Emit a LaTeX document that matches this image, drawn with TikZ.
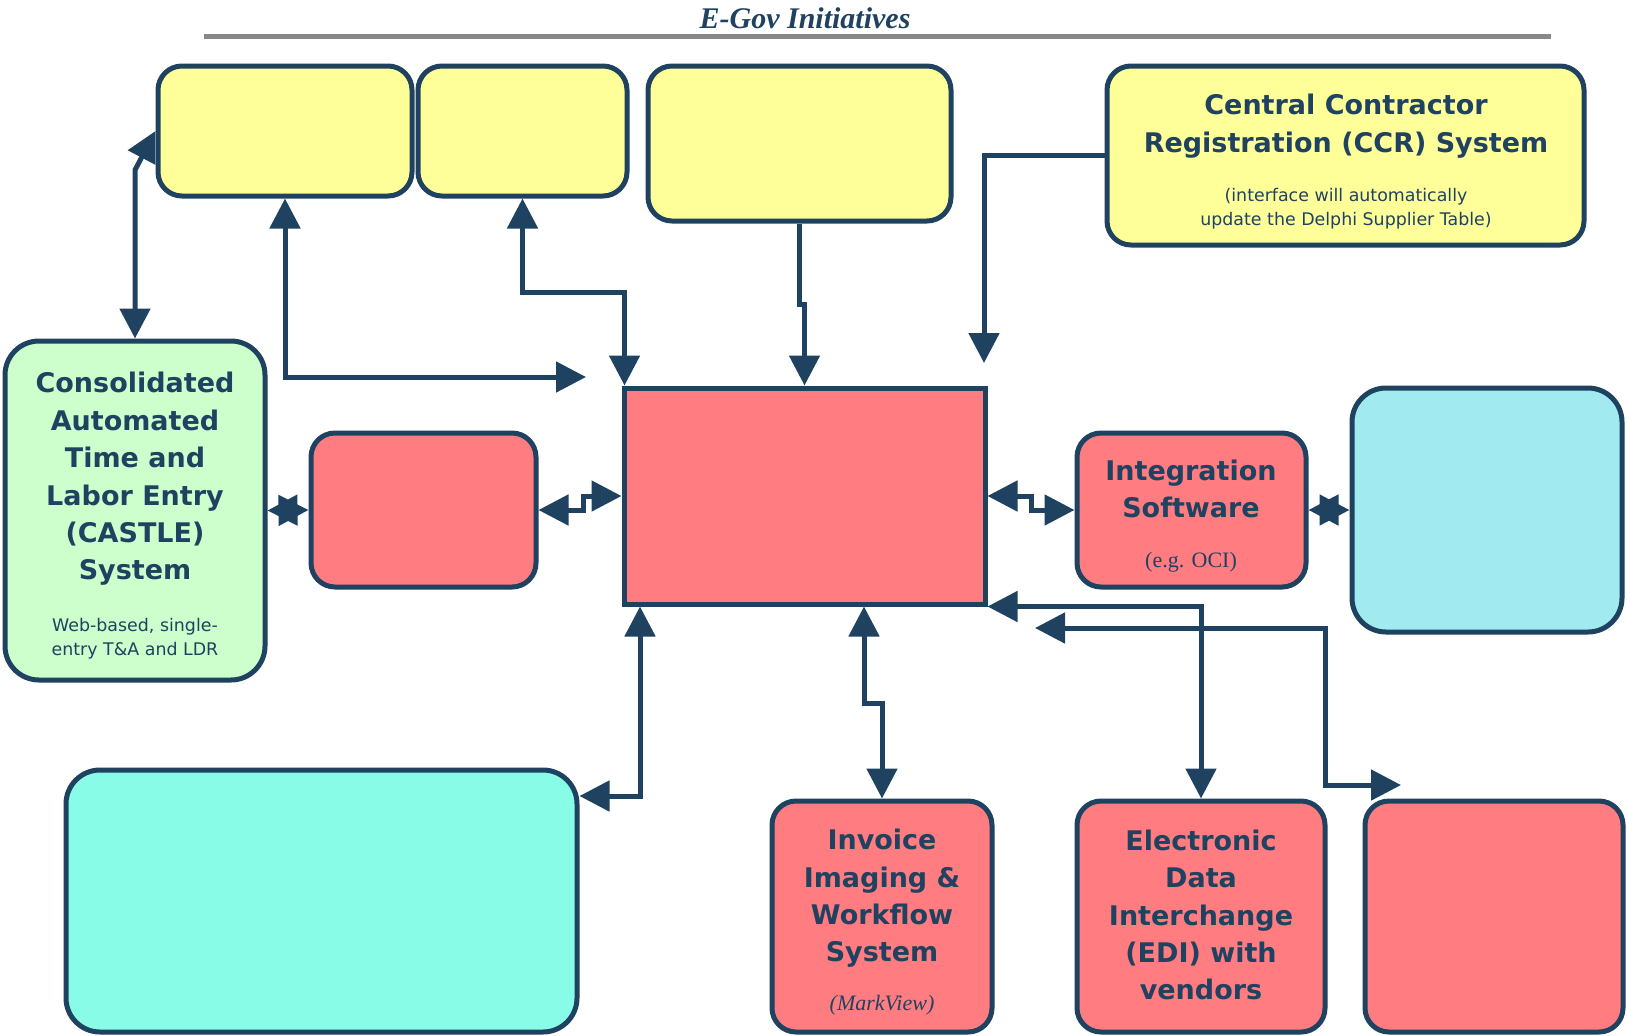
\documentclass[tikz,border=0pt]{standalone}
\usepackage{fontspec}
\setmainfont{Liberation Serif}
\newfontfamily\sansfam{DejaVu Sans}
\usetikzlibrary{arrows.meta, calc}
\definecolor{mynavy}{RGB}{31,66,96}
\definecolor{myyellow}{RGB}{255,255,153}
\definecolor{mygreen}{RGB}{204,255,204}
\definecolor{myred}{RGB}{255,124,128}
\definecolor{mycyan}{RGB}{160,234,240}
\definecolor{myteal}{RGB}{136,252,230}
\definecolor{mygrey}{RGB}{136,136,136}
\tikzset{
  box/.style={rectangle, draw=mynavy, line width=2.5pt,
    rounded corners=12pt, inner sep=0pt},
  yellowbox/.style={box, fill=myyellow},
  greenbox/.style={box, fill=mygreen, rounded corners=17pt},
  redbox/.style={box, fill=myred},
  cyanbox/.style={box, fill=mycyan, rounded corners=17pt},
  tealbox/.style={box, fill=myteal, rounded corners=17pt},
  headtext/.style={text=mynavy, align=center, inner sep=0pt,
    font=\sansfam\bfseries\fontsize{13.5}{18.7}\selectfont},
  subtext/.style={text=mynavy, align=center, inner sep=0pt,
    font=\sansfam\fontsize{8.7}{12}\selectfont},
  serifnote/.style={text=mynavy, inner sep=0pt,
    font=\fontsize{11}{13}\selectfont},
  link/.style={line width=2.5pt, draw=mynavy,
    >={Triangle[length=15pt,width=15pt]}}
}

\begin{document}
\begin{tikzpicture}[x=0.5pt, y=-0.5pt]
  \useasboundingbox (0,0) rectangle (1627,1035);

  % Heading
  \node[text=mynavy, inner sep=0pt, font=\bfseries\itshape\fontsize{15}{18}\selectfont]
    (title) at (805,18) {E-Gov Initiatives};
  \draw[mygrey, line width=2.5pt] (204,36) -- (1551,36);

  % Top row
  \node[yellowbox, minimum width=127pt, minimum height=65pt] (yone) at (285,131) {};
  \node[yellowbox, minimum width=104.5pt, minimum height=65pt] (ytwo) at (522.5,131) {};
  \node[yellowbox, minimum width=151.5pt, minimum height=77.5pt] (ythree) at (799.5,143.5) {};
  \node[yellowbox, minimum width=238.5pt, minimum height=89.5pt] (ccr) at (1345.5,155.5) {};
  \node[headtext] (ccrhd) at (1346,126) {Central Contractor\\Registration (CCR) System};
  \node[subtext] (ccrsub) at (1346,209) {(interface will automatically\\update the Delphi Supplier Table)};

  % Middle row
  \node[greenbox, minimum width=130pt, minimum height=169.5pt] (castle) at (135,510.5) {};
  \node[headtext] (castlehd) at (135,479) {Consolidated\\Automated\\Time and\\Labor Entry\\(CASTLE)\\System};
  \node[subtext] (castlesub) at (135,639) {Web-based, single-\\entry T\&A and LDR};
  \node[redbox, minimum width=112.5pt, minimum height=77pt] (lred) at (423.5,510) {};
  \node[redbox, sharp corners, minimum width=180.5pt, minimum height=108pt] (hub) at (804.5,496) {};
  \node[redbox, minimum width=114.5pt, minimum height=77pt] (integ) at (1191.5,510) {};
  \node[headtext] (integhd) at (1191,489) {Integration\\Software};
  \node[serifnote] (integsub) at (1191,562) {(e.g. OCI)};
  \node[cyanbox, minimum width=135pt, minimum height=122pt] (cyan) at (1487,510) {};

  % Bottom row
  \node[tealbox, minimum width=255.5pt, minimum height=131pt] (teal) at (321.5,901) {};
  \node[redbox, minimum width=110pt, minimum height=115.5pt] (invoice) at (882,916.5) {};
  \node[headtext] (invoicehd) at (882,898.5) {Invoice\\Imaging \&\\Workflow\\System};
  \node[serifnote, font=\itshape\fontsize{11}{13}\selectfont] (invoicesub) at (882,1005) {(MarkView)};
  \node[redbox, minimum width=124pt, minimum height=115.5pt] (edi) at (1201,916.5) {};
  \node[headtext] (edihd) at (1201,915) {Electronic\\Data\\Interchange\\(EDI) with\\vendors};
  \node[redbox, minimum width=129pt, minimum height=115.5pt] (rred) at (1494,916.5) {};

  % Free ends
  \coordinate (ptwo) at (586,377);
  \coordinate (pfive) at (984,363);
  \coordinate (pleft) at (1035,628);
  \coordinate (pright) at (1401,785);
  \coordinate (hubcorner) at ($(hub.north west)+(3,0)$);

  % Links to the top row
  \draw[link, <->] (castle.north) -- (castle.north |- 0,170) -- (yone.west);
  \draw[link, <->] (yone.south) -- (yone.south |- ptwo) -- (ptwo);
  \draw[link, <->] (ytwo.south) -- (ytwo.south |- 0,292) -- (hubcorner |- 0,292) -- (hubcorner);
  \draw[link, ->] (ythree.south) -- (ythree.south |- 0,304) -- (hub.north |- 0,304) -- (hub.north);
  \draw[link, ->] (ccr.west) -- (ccr.west -| pfive) -- (pfive);

  % Links across the middle
  \draw[link, <->] (castle.east) -- (lred.west);
  \draw[link, <->] (lred.east) -- (583,510) -- (583,496) -- (hub.west);
  \draw[link, <->] (hub.east) -- (1031,496) -- (1031,510) -- (integ.west);
  \draw[link, <->] (integ.east) -- (cyan.west);

  % Links to the bottom row
  \draw[link, <->] (hub.south -| 640,0) -- (640,796) -- (teal.east |- 0,796);
  \draw[link, <->] (hub.south -| 864,0) -- (864,703) -- (invoice.north |- 0,703) -- (invoice.north);
  \draw[link, <->] (hub.south east) -- (hub.south east -| edi.north) -- (edi.north);
  \draw[link, <->] (pleft) -- (1325,628) -- (1325,785) -- (pright);
\end{tikzpicture}
\end{document}
